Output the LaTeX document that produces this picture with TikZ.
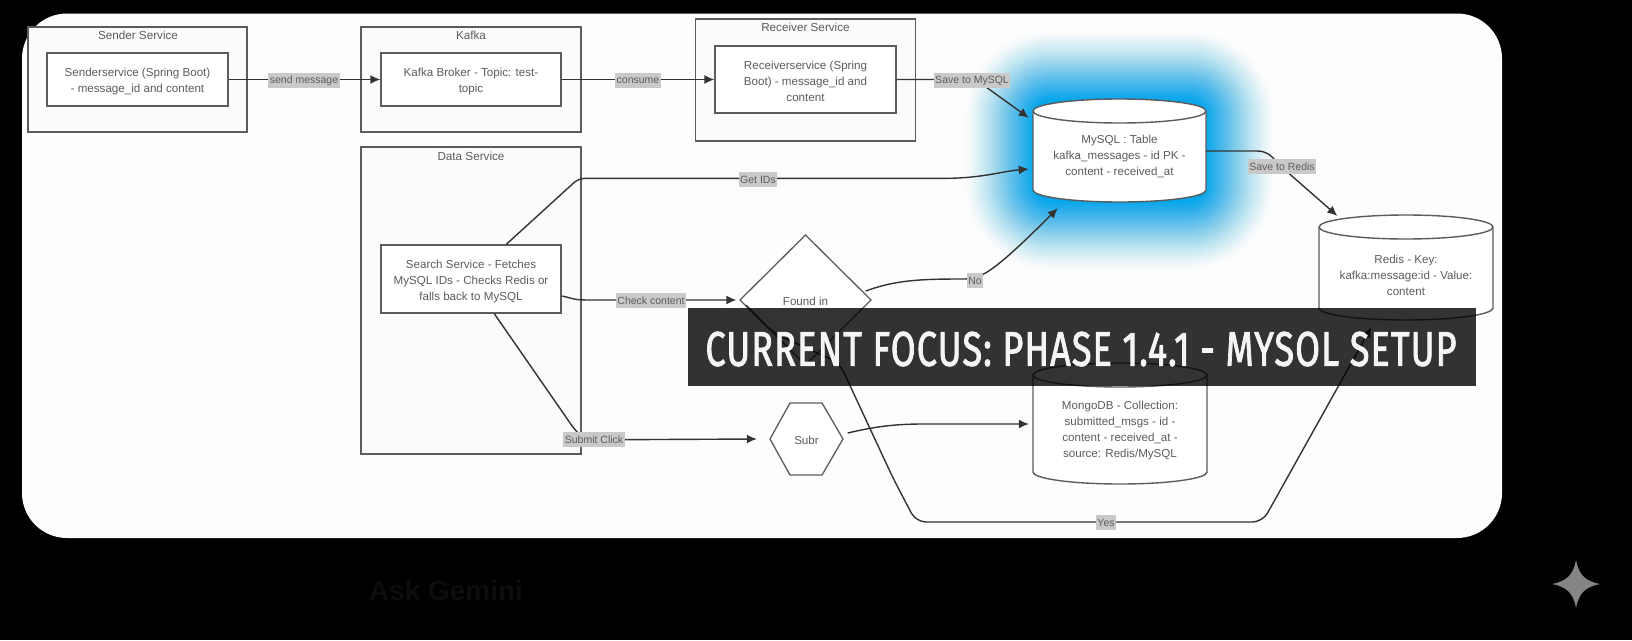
\documentclass[tikz,border=0pt]{standalone}
\usepackage{fontspec}
\setmainfont{Liberation Sans}
\newfontfamily\bannerfont[FakeBold=2,LetterSpace=3]{Fira Sans}
\usetikzlibrary{arrows.meta,calc,shapes.geometric}
\definecolor{lineC}{gray}{0.2}
\definecolor{boxC}{gray}{0.36}
\definecolor{txtC}{gray}{0.36}
\definecolor{glowC}{RGB}{0,165,235}
\definecolor{lblC}{gray}{0.79}
\tikzset{
  panelbox/.style={fill=white!99.3!black,draw=none,rounded corners=45pt},
  clusterbox/.style={draw=boxC,fill=white!98.3!black,line width=1.3pt,inner sep=0pt},
  svcbox/.style={draw=boxC,fill=white,line width=1.4pt,inner sep=0pt},
  txtlab/.style={inner sep=0pt,align=center,text=txtC,yshift=-2pt,font=\fontsize{11.6}{16}\selectfont},
  plainarea/.style={inner sep=0pt},
  title/.style={inner sep=0pt,text=txtC,font=\fontsize{11.7}{13}\selectfont},
  edgelbl/.style={fill=lblC,inner sep=1.5pt,yshift=-0.5pt,text=txtC,font=\fontsize{10.5}{12}\selectfont,minimum height=15pt},
  conn/.style={draw=lineC,line width=1.4pt,rounded corners=6pt,-{Latex[length=10pt,width=9pt]}},
  connplain/.style={draw=lineC,line width=1.4pt,rounded corners=6pt},
  cyl/.style={draw=boxC,fill=white,line width=1.4pt},
}
% \dbshape{x1}{x2}{y1}{y2}
\newcommand{\dbshape}[4]{%
  \path[cyl] (#1,#3+12) -- (#1,#4-12) arc[start angle=180,end angle=360,x radius={(#2-#1)/2},y radius=-12]
     -- (#2,#3+12) arc[start angle=0,end angle=180,x radius={(#2-#1)/2},y radius=-12] -- cycle;
  \draw[cyl,fill=none] (#1,#3+12) arc[start angle=180,end angle=360,x radius={(#2-#1)/2},y radius=-12];
}
\begin{document}
\begin{tikzpicture}[x=1pt,y=-1pt]
\useasboundingbox (0,0) rectangle (1632,640);
\fill[black] (0,0) rectangle (1632,640);
\node[inner sep=0pt,font=\bfseries\fontsize{28}{30}\selectfont,text=white!5!black] (askg) at (446,590) {Ask Gemini};
\fill[black!48] (1576,560) .. controls (1579,575) and (1585,581) .. (1600,584)
  .. controls (1585,587) and (1579,593) .. (1576,608)
  .. controls (1573,593) and (1567,587) .. (1552,584)
  .. controls (1567,581) and (1573,575) .. (1576,560) -- cycle;
\path[panelbox] (22,13.5) rectangle (1502,538);

% glow
\foreach \e in {68,66,...,0}{
  \pgfmathsetmacro{\ia}{0.97*(1-\e/70)^1.3}
  \pgfmathsetmacro{\ib}{0.97*(1-(\e+2)/70)^1.3}
  \pgfmathsetmacro{\al}{1-(1-\ia)/(1-\ib)}
  \fill[glowC,opacity=\al,rounded corners={18pt+\e*1pt}] (1033-\e,99-\e) rectangle (1206+\e,202+\e);
}

% clusters
\node[clusterbox,minimum width=219,minimum height=105] (senderC) at (137.5,79.5) {};
\node[title] (senderT) at (138,35.5) {Sender Service};
\node[clusterbox,minimum width=220,minimum height=105] (kafkaC) at (471,79.5) {};
\node[title] (kafkaT) at (471,35.5) {Kafka};
\node[clusterbox,minimum width=220,minimum height=122] (receiverC) at (805.5,80) {};
\node[title] (receiverT) at (805.5,27.5) {Receiver Service};
\node[clusterbox,minimum width=220,minimum height=307] (dataC) at (471,300.5) {};
\node[title] (dataT) at (471,156.5) {Data Service};

% boxes
\node[svcbox,minimum width=181,minimum height=53,label={[txtlab]center:{Senderservice (Spring Boot)\\- message\_id and content}}] (sender) at (137.5,79.5) {};
\node[svcbox,minimum width=180,minimum height=53,label={[txtlab]center:{Kafka Broker - Topic: test-\\topic}}] (kafka) at (471,79.5) {};
\node[svcbox,minimum width=181,minimum height=67,label={[txtlab]center:{Receiverservice (Spring\\Boot) - message\_id and\\content}}] (receiver) at (805.5,79.5) {};
\node[svcbox,minimum width=180,minimum height=68,label={[txtlab]center:{Search Service - Fetches\\MySQL IDs - Checks Redis or\\falls back to MySQL}}] (search) at (471,279) {};

% cylinders
\dbshape{1033}{1206}{99}{202}
\node[plainarea,minimum width=173,minimum height=103,label={[txtlab]center:{MySQL : Table\\kafka\_messages - id PK -\\content - received\_at}}] (mysql) at (1119.5,154) {};
\dbshape{1319}{1493}{215}{320}
\node[plainarea,minimum width=174,minimum height=105,label={[txtlab]center:{Redis - Key:\\kafka:message:id - Value:\\content}}] (redis) at (1406,273) {};
\dbshape{1033}{1207}{363}{484}
\node[plainarea,minimum width=174,minimum height=121,label={[txtlab]center:{MongoDB - Collection:\\submitted\_msgs - id -\\content - received\_at -\\source: Redis/MySQL}}] (mongo) at (1120,428) {};

% decision shapes
\path[draw=boxC,fill=white,line width=1.3pt] (805.5,235) -- (871,300) -- (805.5,365) -- (740,300) -- cycle;
\node[plainarea,minimum width=130,minimum height=14,label={[txtlab]center:{Found in}}] (found) at (805.5,299) {};
\path[draw=boxC,fill=white,line width=1.3pt] (790,403) -- (822,403) -- (843,439) -- (822,475) -- (790,475) -- (770,439) -- cycle;
\node[plainarea,minimum width=73,minimum height=14,label={[txtlab]center:{Subr}}] (subr) at (806.5,438) {};

% connectors
\draw[conn] (sender.east) -- (kafka.west);
\draw[conn] (kafka.east) -- (receiver.west);
\draw[conn,rounded corners=0pt] (receiver.east) -- ($(receiver.east)+(72,0)$) .. controls ($(receiver.east)+(82,0)$) and ($(receiver.east)+(85,5)$) .. ($(receiver.east)+(90,8)$) -- ($(mysql.north west)+(-4,15.5)$);

\draw[conn] ($(search.north west)+(126,0)$) -- ($(dataC.north east)+(-3,32)$) -- ($(dataC.north east)+(356,32)$) .. controls ($(dataC.north east)+(400,32)$) and ($(dataC.north east)+(420,25)$) .. ($(mysql.west)+(-4,15)$);

\draw[conn,rounded corners=0pt] ($(search.east)+(0.5,17)$) .. controls ($(search.east)+(14,20)$) and ($(search.east)+(10,21)$) .. ($(search.east)+(30,21)$) -- ($(found.west)+(-4,1)$);

\draw[connplain] ($(search.south west)+(114,0)$) -- ($(dataC.south east)+(-7,-25)$) -- ($(dataC.south east)+(3,-15)$) -- ($(dataC.south east)+(46,-15)$);
\draw[conn] ($(dataC.south east)+(46,-15)$) -- ($(subr.west)+(-13,1)$);

\draw[conn,rounded corners=0pt] ($(subr.east)+(4.5,-5)$) .. controls ($(subr.east)+(30,-11)$) and ($(subr.east)+(50,-14)$) .. ($(subr.east)+(80,-14)$) -- ($(mongo.west)+(-4,-4)$);

\draw[conn,rounded corners=0pt] ($(found.east)+(-5,-8)$) .. controls ($(found.east)+(25,-19)$) and ($(found.east)+(50,-20)$) .. ($(found.east)+(92,-20)$) .. controls ($(found.east)+(110,-20)$) and ($(found.east)+(120,-24)$) .. ($(mysql.south west)+(25,2.5)$);

\draw[conn,rounded corners=0pt] ($(mysql.east)+(0,-3)$) -- ($(mysql.east)+(50,-3)$) .. controls ($(mysql.east)+(60,-3)$) and ($(mysql.east)+(64,0)$) .. ($(mysql.east)+(72,10)$) -- ($(redis.north west)+(18.5,-4.5)$);

\draw[conn,rounded corners=10pt] ($(found.center)+(-59.5,6)$) -- ($(found.center)+(-32,34)$) -- ($(found.center)+(34,64)$) -- ($(found.center)+(87.5,179)$) -- ($(found.center)+(110.5,223)$) -- ($(found.center)+(457,223)$) -- ($(redis.south west)+(52.5,1.5)$);

% labels
\node[edgelbl] (lsend) at (304,80) {send message};
\node[edgelbl] (lcons) at (638,80) {consume};
\node[edgelbl] (lsave) at (972,80) {Save to MySQL};
\node[edgelbl] (lget) at (758,179) {Get IDs};
\node[edgelbl] (lcheck) at (651,300) {Check content};
\node[edgelbl] (lsubmit) at (594,439) {Submit Click};
\node[edgelbl] (lno) at (975,280) {No};
\node[edgelbl] (lredis) at (1282,166) {Save to Redis};
\node[edgelbl] (lyes) at (1106,522) {Yes};

% banner
\fill[black,opacity=0.8] (688,308) rectangle (1476,386);
\node[inner sep=0pt,text=white!96!black] (banner) at (1081,349) {\resizebox{751pt}{34pt}{\bannerfont CURRENT FOCUS: PHASE 1.4.1 - MYSOL SETUP}};
\end{tikzpicture}
\end{document}
